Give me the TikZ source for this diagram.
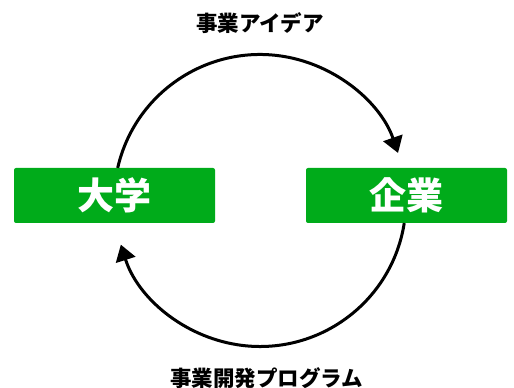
\documentclass[tikz,border=0pt]{standalone}
\usepackage{fontspec}
\setmainfont{Noto Sans CJK JP}
\usetikzlibrary{arrows.meta}
\definecolor{boxgreen}{HTML}{00AB1A}
\tikzset{
  party/.style={draw=none, fill=boxgreen, rounded corners=2pt, minimum width=201pt, minimum height=55pt, inner sep=0pt, text=white, font=\fontsize{37pt}{40pt}\selectfont\bfseries},
  flowlabel/.style={font=\fontsize{21.5pt}{24pt}\selectfont\bfseries, text=black, inner sep=0pt},
  flow/.style={line width=3pt, -{Triangle[length=16pt, width=20pt]}}
}
\begin{document}
\begin{tikzpicture}[x=1pt, y=1pt]
  \useasboundingbox (0,0) rectangle (514,388);
  \coordinate (c) at (260,187.5);
  \node[party] (univ) at (114.5,192.5) {大学};
  \node[party] (corp) at (406.5,192.5) {企業};
  \node[flowlabel] (idea) at (260,365) {事業アイデア};
  \node[flowlabel] (prog) at (266.5,10) {事業開発プログラム};
  \draw[flow] ([shift={(167.1:146pt)}]c) arc[start angle=167.1, end angle=19, radius=146pt];
  \draw[flow] ([shift={(-8.9:146pt)}]c) arc[start angle=-8.9, end angle=-162.4, radius=146pt];
\end{tikzpicture}
\end{document}
